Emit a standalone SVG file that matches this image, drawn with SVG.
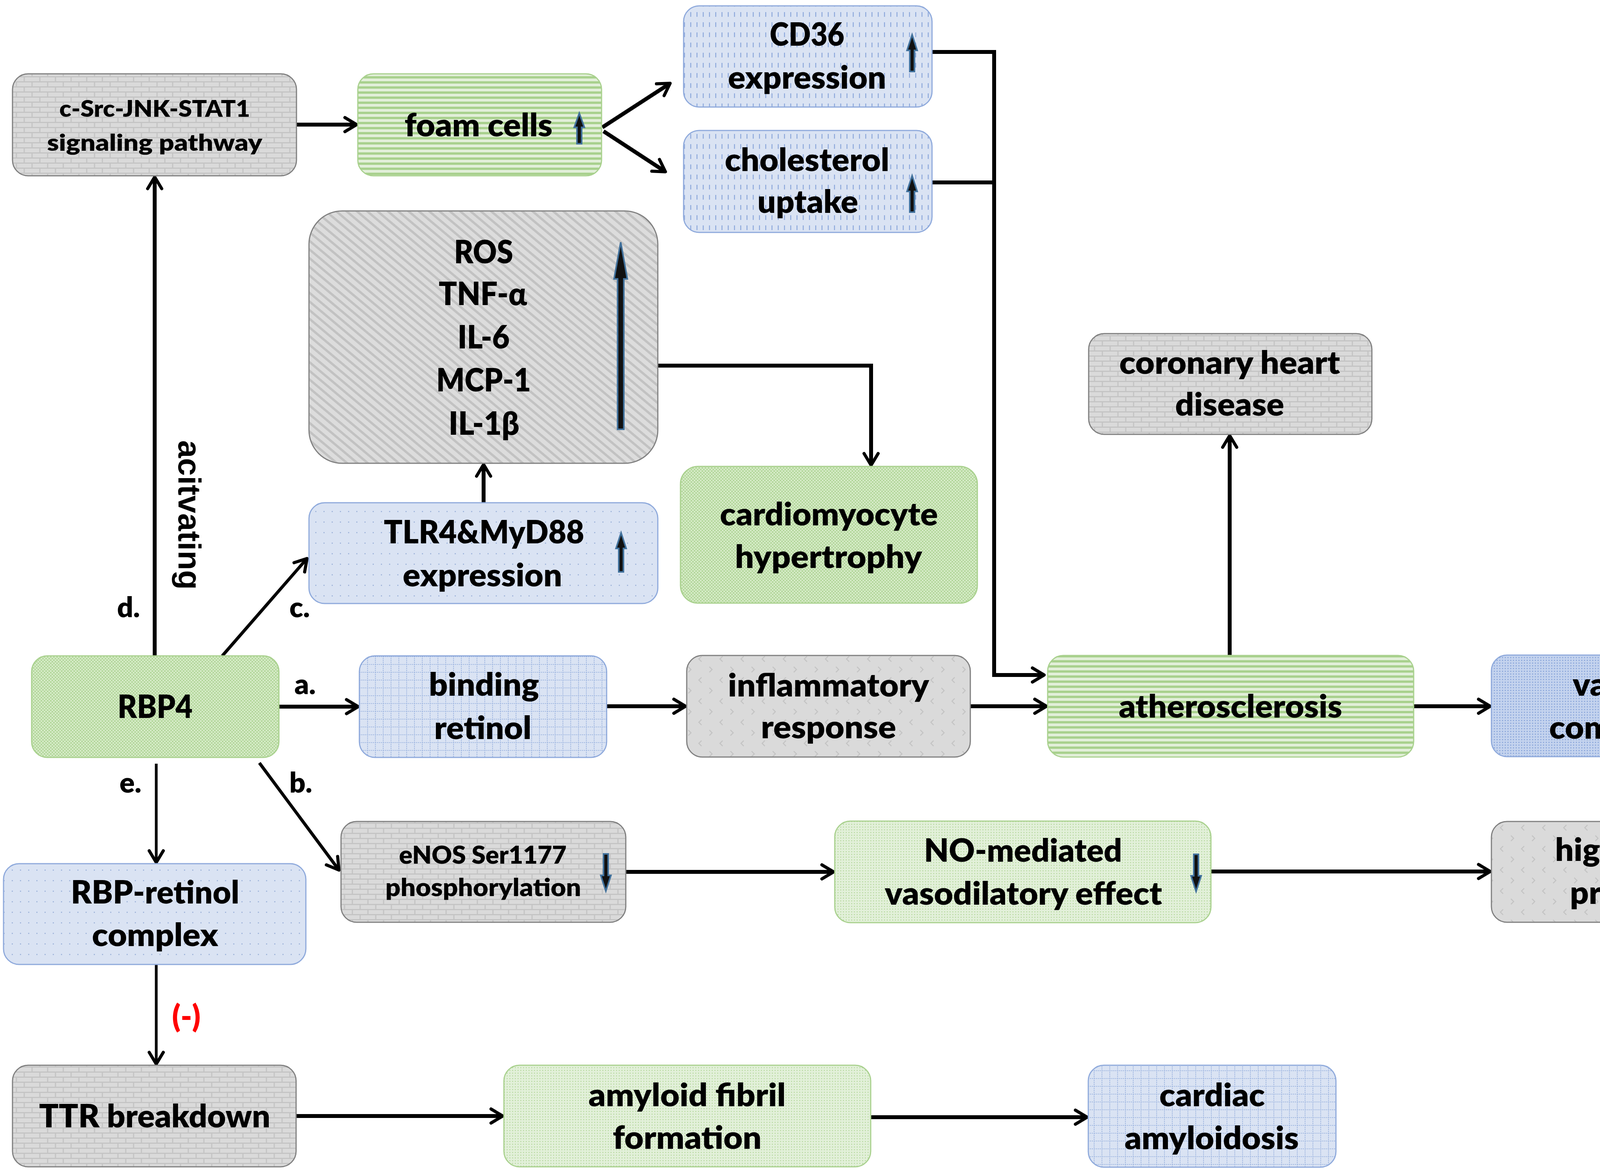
<svg xmlns="http://www.w3.org/2000/svg" width="4550" height="3008" viewBox="0 0 4550 3008">
<style>
.t{font-family:Lato,"Open Sans","Liberation Sans",sans-serif;font-weight:800;font-size:82px;text-anchor:middle;fill:#000}
.ts{font-size:59px}
.tm{font-size:63px}
.lbl{font-family:Lato,"Open Sans","Liberation Sans",sans-serif;font-weight:800;font-size:72px;text-anchor:middle;fill:#000}
.gray{stroke:#808080;stroke-width:3}
.green{stroke:#a9d18e;stroke-width:3}
.blue{stroke:#8faadc;stroke-width:3}
.ind{fill:#111;stroke:#41719c;stroke-width:4;stroke-linejoin:miter}
.c{fill:none;stroke:#000;stroke-width:10;marker-end:url(#ah)}
.cn{stroke-width:7}
.cm{stroke-width:8}
.cx{fill:none;stroke:#000;stroke-width:10}
</style>
<defs>
<marker id="ah" viewBox="0 0 46 46" refX="34" refY="23" markerWidth="46" markerHeight="46" markerUnits="userSpaceOnUse" orient="auto">
<path d="M7,5 L37,23 L7,41" fill="none" stroke="#000" stroke-width="8" stroke-linecap="round" stroke-linejoin="round"/>
</marker>
<pattern id="pBrick" width="40" height="26" patternUnits="userSpaceOnUse">
<rect width="40" height="26" fill="#dadada"/>
<path d="M0,1.5 H40 M0,14.5 H40 M2,1.5 V14.5 M22,14.5 V26" stroke="#c4c4c4" stroke-width="3" fill="none"/>
</pattern>
<pattern id="pGStripe" width="20" height="13" patternUnits="userSpaceOnUse">
<rect width="20" height="13" fill="#e2efd9"/>
<rect width="20" height="6" fill="#a9d18e"/>
</pattern>
<pattern id="pBDash" width="16" height="26" patternUnits="userSpaceOnUse">
<rect width="16" height="26" fill="#dae3f3"/>
<rect x="7" y="5" width="2.5" height="12" fill="#8faadc"/>
</pattern>
<pattern id="pDiag" width="17" height="17" patternUnits="userSpaceOnUse" patternTransform="rotate(-50)">
<rect width="17" height="17" fill="#dcdcdc"/>
<rect width="6" height="17" fill="#c2c2c2"/>
</pattern>
<pattern id="pBDots" width="21" height="27" patternUnits="userSpaceOnUse">
<rect width="21" height="27" fill="#dae3f3"/>
<rect x="9" y="12" width="3" height="3" fill="#a4b8dc"/>
</pattern>
<pattern id="pGCross" width="8" height="8" patternUnits="userSpaceOnUse">
<rect width="8" height="8" fill="#d7ecc9"/>
<rect width="4" height="4" fill="#b4d79c"/>
<rect x="4" y="4" width="4" height="4" fill="#b4d79c"/>
</pattern>
<pattern id="pBGrid" width="20" height="20" patternUnits="userSpaceOnUse">
<rect width="20" height="20" fill="#dae3f3"/>
<path d="M0,1 H20 M1,0 V20" stroke="#8faadc" stroke-width="1.6" stroke-dasharray="3 2" fill="none"/>
</pattern>
<pattern id="pChev" width="54" height="54" patternUnits="userSpaceOnUse">
<rect width="54" height="54" fill="#dadada"/>
<path d="M14,6 l-7,7 l7,7 M34,33 l7,7 l-7,7" stroke="#c4c4c4" stroke-width="2.5" fill="none"/>
</pattern>
<pattern id="pBDense" width="7" height="7" patternUnits="userSpaceOnUse">
<rect width="7" height="7" fill="#c4d3ee"/>
<rect x="2" y="2" width="3" height="3" fill="#8faadc"/>
</pattern>
<pattern id="pGDots" width="7" height="7" patternUnits="userSpaceOnUse">
<rect width="7" height="7" fill="#e2f0d9"/>
<rect x="2" y="2" width="2.5" height="2.5" fill="#b4d79c"/>
</pattern>
</defs>
<rect width="4550" height="3008" fill="#ffffff"/>

<g id="connectors">
<path class="c" d="M759,319 H910"/>
<path class="c" d="M1542,326 L1713,215"/>
<path class="c" d="M1545,336 L1701,438"/>
<path class="c" d="M2386,133 H2545 V1728 H2670"/>
<path class="cx" d="M2386,467 H2545"/>
<path class="c" d="M1684,936 H2230 V1188"/>
<path class="c" d="M1238,1287 V1192"/>
<path class="c" d="M396,1679 V456"/>
<path class="c cm" d="M569,1679 L784,1432"/>
<path class="c" d="M714,1809 H914"/>
<path class="c" d="M1553,1808 H1752"/>
<path class="c" d="M2484,1808 H2676"/>
<path class="c" d="M3148,1678 V1118"/>
<path class="c" d="M3619,1808 H3812"/>
<path class="c" d="M4180,1937 V2097"/>
<path class="c cm" d="M664,1953 L866,2225"/>
<path class="c" d="M1602,2232 H2131"/>
<path class="c" d="M3100,2231 H3812"/>
<path class="c cn" d="M400,1955 V2205"/>
<path class="c cn" d="M400,2469 V2721"/>
<path class="c" d="M758,2857 H1284"/>
<path class="c" d="M2229,2860 H2780"/>
</g>

<g id="labels">
<text class="lbl" x="329" y="1580">d.</text>
<text class="lbl" x="767" y="1580">c.</text>
<text class="lbl" x="781" y="1777">a.</text>
<text class="lbl" x="770" y="2029">b.</text>
<text class="lbl" x="334" y="2029">e.</text>
<text transform="translate(457,1127) rotate(90)" style="font-family:'Liberation Sans',Arial,sans-serif;font-weight:700;font-size:82px;fill:#000">acitvating</text>
<text x="477" y="2630" textLength="73" lengthAdjust="spacingAndGlyphs" style="font-family:Lato,'Liberation Sans',sans-serif;font-weight:800;font-size:80px;text-anchor:middle;fill:#ff0000">(-)</text>
</g>

<g id="n-csrc">
<rect x="32" y="189" width="727" height="261" rx="40" fill="url(#pBrick)" class="gray"/>
<text class="t ts" x="396" y="299" textLength="488" lengthAdjust="spacingAndGlyphs">c-Src-JNK-STAT1</text>
<text class="t ts" x="396" y="386" textLength="551" lengthAdjust="spacingAndGlyphs">signaling pathway</text>
</g>

<g id="n-foam">
<rect x="916" y="189" width="624" height="261" rx="40" fill="url(#pGStripe)" class="green"/>
<text class="t" x="1225" y="349" textLength="379" lengthAdjust="spacingAndGlyphs">foam cells</text>
<polygon class="ind" points="1483,290 1496,326 1489,326 1489,368 1477,368 1477,326 1470,326"/>
</g>

<g id="n-cd36">
<rect x="1750" y="15" width="636" height="259" rx="40" fill="url(#pBDash)" class="blue"/>
<text class="t" x="2066" y="117" textLength="191" lengthAdjust="spacingAndGlyphs">CD36</text>
<text class="t" x="2066" y="227" textLength="405" lengthAdjust="spacingAndGlyphs">expression</text>
<polygon class="ind" points="2335,89 2348,129 2341,129 2341,183 2329,183 2329,129 2322,129"/>
</g>

<g id="n-chol">
<rect x="1750" y="334" width="636" height="261" rx="40" fill="url(#pBDash)" class="blue"/>
<text class="t" x="2066" y="438" textLength="421" lengthAdjust="spacingAndGlyphs">cholesterol</text>
<text class="t" x="2068" y="545" textLength="258" lengthAdjust="spacingAndGlyphs">uptake</text>
<polygon class="ind" points="2335,450 2348,490 2341,490 2341,543 2329,543 2329,490 2322,490"/>
</g>

<g id="n-ros">
<rect x="791" y="540" width="893" height="646" rx="85" fill="url(#pDiag)" class="gray"/>
<text class="t" x="1238" y="674" textLength="151" lengthAdjust="spacingAndGlyphs">ROS</text>
<text class="t" x="1236" y="781" textLength="226" lengthAdjust="spacingAndGlyphs">TNF-α</text>
<text class="t" x="1238" y="892" textLength="133" lengthAdjust="spacingAndGlyphs">IL-6</text>
<text class="t" x="1238" y="1002" textLength="242" lengthAdjust="spacingAndGlyphs">MCP-1</text>
<text class="t" x="1239" y="1113" textLength="181" lengthAdjust="spacingAndGlyphs">IL-1β</text>
<polygon class="ind" points="1589,620 1606,714 1597,714 1597,1099 1581,1099 1581,714 1572,714"/>
</g>

<g id="n-tlr4">
<rect x="791" y="1287" width="893" height="258" rx="40" fill="url(#pBDots)" class="blue"/>
<text class="t" x="1239" y="1391" textLength="513" lengthAdjust="spacingAndGlyphs">TLR4&amp;MyD88</text>
<text class="t" x="1235" y="1501" textLength="408" lengthAdjust="spacingAndGlyphs">expression</text>
<polygon class="ind" points="1590,1364 1603,1404 1596,1404 1596,1464 1584,1464 1584,1404 1577,1404"/>
</g>

<g id="n-cardio">
<rect x="1742" y="1194" width="760" height="350" rx="45" fill="url(#pGCross)" class="green"/>
<text class="t" x="2122" y="1345" textLength="558" lengthAdjust="spacingAndGlyphs">cardiomyocyte</text>
<text class="t" x="2121" y="1454" textLength="479" lengthAdjust="spacingAndGlyphs">hypertrophy</text>
</g>

<g id="n-chd">
<rect x="2787" y="854" width="725" height="258" rx="40" fill="url(#pBrick)" class="gray"/>
<text class="t" x="3148" y="957" textLength="565" lengthAdjust="spacingAndGlyphs">coronary heart</text>
<text class="t" x="3148" y="1064" textLength="279" lengthAdjust="spacingAndGlyphs">disease</text>
</g>

<g id="n-rbp4">
<rect x="81" y="1679" width="633" height="260" rx="40" fill="url(#pGCross)" class="green"/>
<text class="t" x="397" y="1838" textLength="192" lengthAdjust="spacingAndGlyphs">RBP4</text>
</g>

<g id="n-bind">
<rect x="920" y="1679" width="633" height="260" rx="40" fill="url(#pBGrid)" class="blue"/>
<text class="t" x="1239" y="1781" textLength="282" lengthAdjust="spacingAndGlyphs">binding</text>
<text class="t" x="1236" y="1892" textLength="249" lengthAdjust="spacingAndGlyphs">retinol</text>
</g>

<g id="n-infl">
<rect x="1758" y="1678" width="726" height="260" rx="40" fill="url(#pChev)" class="gray"/>
<text class="t" x="2121" y="1783" textLength="515" lengthAdjust="spacingAndGlyphs">inflammatory</text>
<text class="t" x="2121" y="1890" textLength="346" lengthAdjust="spacingAndGlyphs">response</text>
</g>

<g id="n-athero">
<rect x="2682" y="1678" width="937" height="260" rx="40" fill="url(#pGStripe)" class="green"/>
<text class="t" x="3150" y="1837" textLength="572" lengthAdjust="spacingAndGlyphs">atherosclerosis</text>
</g>

<g id="n-vasc">
<rect x="3818" y="1677" width="724" height="260" rx="40" fill="url(#pBDense)" class="blue"/>
<text class="t" x="4181" y="1781" textLength="310" lengthAdjust="spacingAndGlyphs">vascular</text>
<text class="t" x="4181" y="1891" textLength="430" lengthAdjust="spacingAndGlyphs">compliance</text>
<polygon class="ind" points="4518,1858 4531,1818 4524,1818 4524,1763 4512,1763 4512,1818 4505,1818"/>
</g>

<g id="n-enos">
<rect x="873" y="2103" width="729" height="258" rx="40" fill="url(#pBrick)" class="gray"/>
<text class="t tm" x="1236" y="2211" textLength="429" lengthAdjust="spacingAndGlyphs">eNOS Ser1177</text>
<text class="t tm" x="1237" y="2294" textLength="501" lengthAdjust="spacingAndGlyphs">phosphorylation</text>
<polygon class="ind" points="1551,2281 1564,2241 1557,2241 1557,2186 1545,2186 1545,2241 1538,2241"/>
</g>

<g id="n-no">
<rect x="2137" y="2102" width="963" height="260" rx="40" fill="url(#pGDots)" class="green"/>
<text class="t" x="2619" y="2206" textLength="507" lengthAdjust="spacingAndGlyphs">NO-mediated</text>
<text class="t" x="2620" y="2316" textLength="710" lengthAdjust="spacingAndGlyphs">vasodilatory effect</text>
<polygon class="ind" points="3062,2282 3075,2242 3068,2242 3068,2187 3056,2187 3056,2242 3049,2242"/>
</g>

<g id="n-hbp">
<rect x="3818" y="2103" width="724" height="258" rx="40" fill="url(#pChev)" class="gray"/>
<text class="t" x="4180" y="2204" textLength="398" lengthAdjust="spacingAndGlyphs">high blood</text>
<text class="t" x="4181" y="2314" textLength="324" lengthAdjust="spacingAndGlyphs">pressure</text>
</g>

<g id="n-rbpret">
<rect x="9" y="2211" width="774" height="258" rx="40" fill="url(#pBDots)" class="blue"/>
<text class="t" x="397" y="2313" textLength="431" lengthAdjust="spacingAndGlyphs">RBP-retinol</text>
<text class="t" x="397" y="2422" textLength="323" lengthAdjust="spacingAndGlyphs">complex</text>
</g>

<g id="n-ttr">
<rect x="32" y="2727" width="726" height="260" rx="40" fill="url(#pBrick)" class="gray"/>
<text class="t" x="396" y="2886" textLength="592" lengthAdjust="spacingAndGlyphs">TTR breakdown</text>
</g>

<g id="n-amyl">
<rect x="1290" y="2727" width="939" height="260" rx="40" fill="url(#pGDots)" class="green"/>
<text class="t" x="1759" y="2832" textLength="505" lengthAdjust="spacingAndGlyphs">amyloid fibril</text>
<text class="t" x="1759" y="2941" textLength="381" lengthAdjust="spacingAndGlyphs">formation</text>
</g>

<g id="n-card">
<rect x="2786" y="2727" width="634" height="261" rx="40" fill="url(#pBGrid)" class="blue"/>
<text class="t" x="3103" y="2832" textLength="270" lengthAdjust="spacingAndGlyphs">cardiac</text>
<text class="t" x="3102" y="2942" textLength="446" lengthAdjust="spacingAndGlyphs">amyloidosis</text>
</g>
</svg>
